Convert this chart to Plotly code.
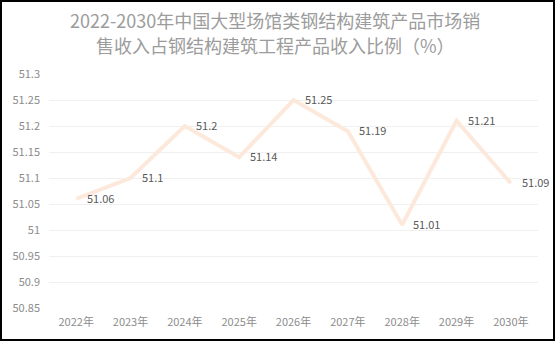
import plotly.graph_objects as go

years = ["2022年", "2023年", "2024年", "2025年", "2026年", "2027年", "2028年", "2029年", "2030年"]
ratio = [51.06, 51.1, 51.2, 51.14, 51.25, 51.19, 51.01, 51.21, 51.09]
y_ticks = [50.85, 50.9, 50.95, 51, 51.05, 51.1, 51.15, 51.2, 51.25, 51.3]
title_lines = ["2022-2030年中国大型场馆类钢结构建筑产品市场销", "售收入占钢结构建筑工程产品收入比例（%）"]

W, H = 555, 341
ML, MR, MT, MB = 49, 17, 74, 33
PW, PH = W - ML - MR, H - MT - MB

font_family = "Noto Sans CJK SC, Noto Sans, sans-serif"

fig = go.Figure()
fig.add_trace(go.Scatter(
    x=years, y=ratio,
    mode="lines",
    line=dict(color="#fde9dc", width=4),
    hoverinfo="skip",
))

# value labels to the right of each point
for yr, v in zip(years, ratio):
    fig.add_annotation(
        x=yr, y=v, xref="x", yref="y",
        text=f"{v:g}", showarrow=False,
        xanchor="left", yanchor="middle", xshift=9, yshift=1,
        font=dict(size=11, color="#595959", family=font_family),
    )

# two-line chart title
for i, line in enumerate(title_lines):
    fig.add_annotation(
        x=(275 - ML) / PW, y=1 + (MT - (20.5 + 24 * i)) / PH,
        xref="paper", yref="paper", text=line, showarrow=False,
        xanchor="center", yanchor="middle",
        font=dict(size=18, color="#9c9c9c", family=font_family),
    )

fig.update_layout(
    width=W, height=H,
    margin=dict(l=ML, r=MR, t=MT, b=MB, pad=0),
    paper_bgcolor="white", plot_bgcolor="white",
    showlegend=False,
    xaxis=dict(
        range=[-0.5, len(years) - 0.5],
        showgrid=False, showline=False, zeroline=False,
        tickfont=dict(size=11, color="#8c8c8c", family=font_family),
        ticks="", ticklabelstandoff=6,
    ),
    yaxis=dict(
        range=[50.85, 51.3], tickvals=y_ticks,
        ticktext=[f"{v:g}" for v in y_ticks],
        showgrid=True, gridcolor="#f0f0f0", gridwidth=1,
        zeroline=False, showline=False,
        tickfont=dict(size=11, color="#8c8c8c", family=font_family),
        ticks="", ticklabelstandoff=8,
    ),
)

# outer frame around the whole chart
fig.add_shape(
    type="rect", xref="paper", yref="paper",
    x0=-(ML - 1) / PW, x1=1 + (MR - 1) / PW,
    y0=-(MB - 1) / PH, y1=1 + (MT - 1) / PH,
    line=dict(color="#000000", width=2), fillcolor="rgba(0,0,0,0)",
    layer="above",
)

fig.write_html("out.html")
